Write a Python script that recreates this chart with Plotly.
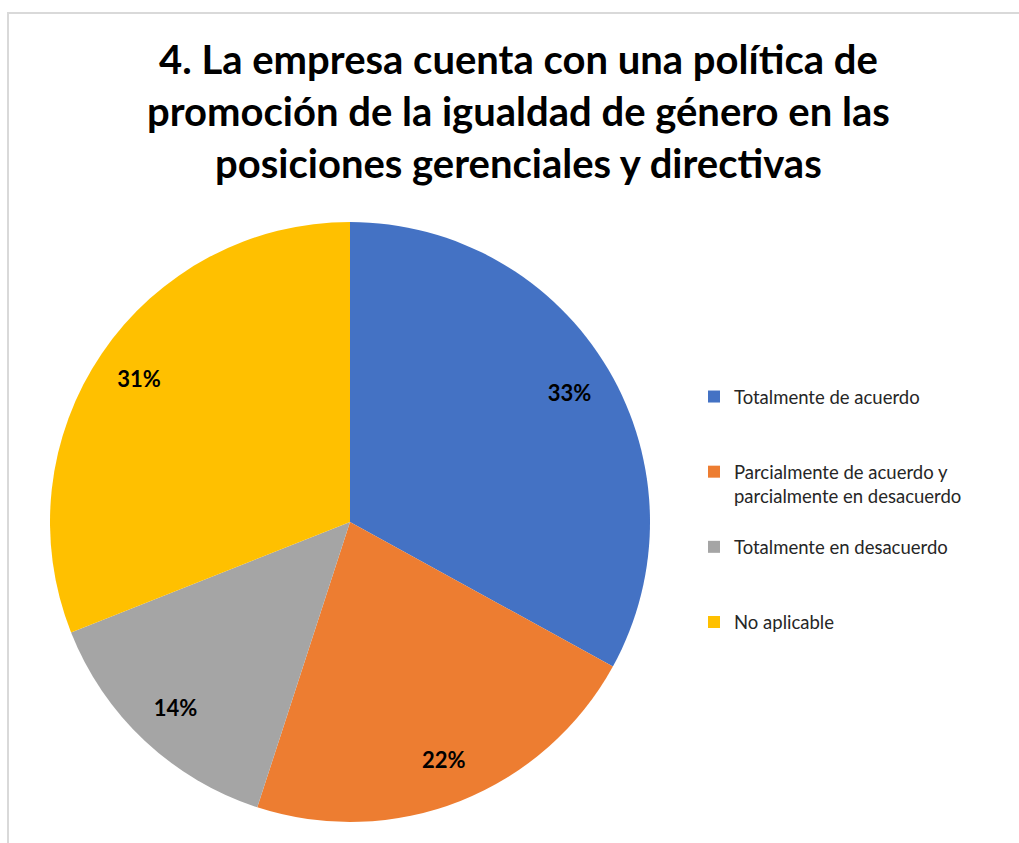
import plotly.graph_objects as go

W, H = 1019, 843

categorias = [
    "Totalmente de acuerdo",
    "Parcialmente de acuerdo y<br>parcialmente en desacuerdo",
    "Totalmente en desacuerdo",
    "No aplicable",
]
porcentajes = [33, 22, 14, 31]
colores = ["#4472C4", "#ED7D31", "#A5A5A5", "#FFC000"]

titulo = ("4. La empresa cuenta con una política de<br>"
          "promoción de la igualdad de género en las<br>"
          "posiciones gerenciales y directivas")

# every legend entry takes three text lines so the entries are evenly spaced
lineas_leyenda = 3
etiquetas_leyenda = [
    c + "<br>&nbsp;" * (lineas_leyenda - 1 - c.count("<br>")) for c in categorias
]

dominio = dict(x=[50 / W, 650 / W], y=[(H - 822) / H, (H - 222) / H])

fig = go.Figure()

# filled pie with the legend
fig.add_trace(
    go.Pie(
        labels=etiquetas_leyenda,
        values=porcentajes,
        customdata=[c.replace("<br>", " ") for c in categorias],
        hovertemplate="%{customdata}: %{value}%<extra></extra>",
        marker=dict(colors=colores, line=dict(width=0)),
        sort=False,
        direction="clockwise",
        rotation=0,
        textinfo="none",
        domain=dominio,
    )
)

# transparent ring on top carrying the percentage labels near the outer edge
fig.add_trace(
    go.Pie(
        labels=categorias,
        values=porcentajes,
        hole=0.70,
        marker=dict(colors=["rgba(0,0,0,0)"] * len(porcentajes), line=dict(width=0)),
        sort=False,
        direction="clockwise",
        rotation=0,
        texttemplate="%{value}%",
        textposition="inside",
        insidetextorientation="horizontal",
        textfont=dict(family="Lato", size=22, color="#000000", weight="bold"),
        domain=dominio,
        showlegend=False,
        hoverinfo="skip",
    )
)

fig.update_layout(
    width=W,
    height=H,
    margin=dict(l=0, r=0, t=0, b=0),
    paper_bgcolor="#FFFFFF",
    plot_bgcolor="#FFFFFF",
    showlegend=True,
    legend=dict(
        x=694 / W,
        y=(H - 378) / H,
        xanchor="left",
        yanchor="top",
        font=dict(family="Lato", size=18.5, color="#262626"),
        valign="top",
        itemwidth=30,
        bgcolor="rgba(0,0,0,0)",
    ),
    annotations=[
        dict(
            text=titulo,
            x=518 / W,
            y=(H - 33) / H,
            xref="paper",
            yref="paper",
            xanchor="center",
            yanchor="top",
            showarrow=False,
            align="center",
            font=dict(family="Lato", size=40, color="#000000", weight="bold"),
        )
    ],
    shapes=[
        dict(
            type="rect",
            xref="paper",
            yref="paper",
            x0=8 / W,
            x1=1.02,
            y0=-0.02,
            y1=(H - 13) / H,
            line=dict(color="#D9D9D9", width=2),
            fillcolor="rgba(0,0,0,0)",
            layer="below",
        )
    ],
)

fig.write_html("out.html")
